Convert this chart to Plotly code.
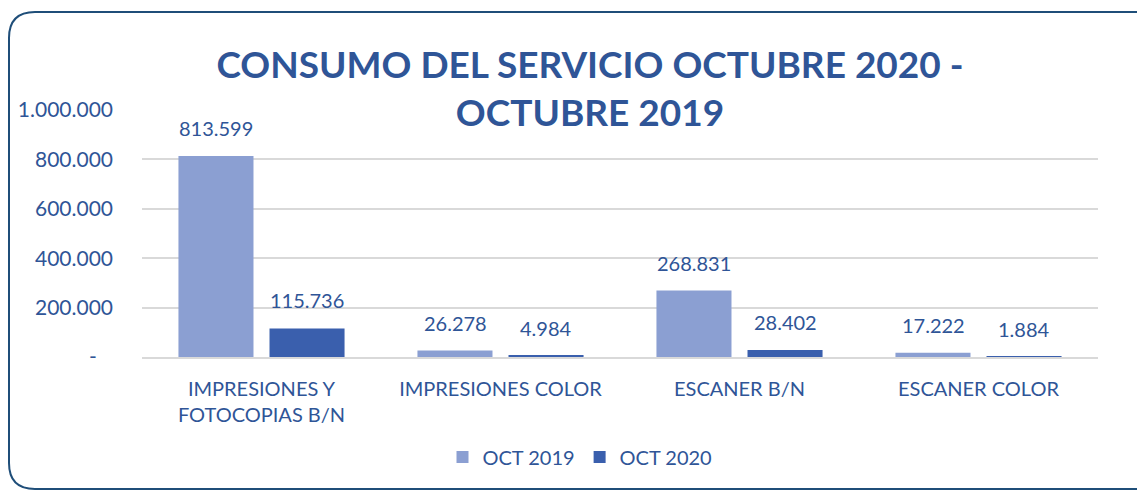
import plotly.graph_objects as go

categories = ["IMPRESIONES Y<br>FOTOCOPIAS B/N", "IMPRESIONES COLOR", "ESCANER B/N", "ESCANER COLOR"]
oct_2019 = [813599, 26278, 268831, 17222]
oct_2020 = [115736, 4984, 28402, 1884]
series_names = ["OCT 2019", "OCT 2020"]
tick_vals = [0, 200000, 400000, 600000, 800000, 1000000]
tick_text = ["-\u00a0\u00a0\u00a0", "200.000", "400.000", "600.000", "800.000", "1.000.000"]

W, H = 1145, 491
OFF = 8  # page offset of the figure div
FONT = "Lato"
BLUE = "#2F5597"
C2019 = "#8B9FD2"
C2020 = "#3A5FAD"

fig = go.Figure()
fig.add_trace(go.Bar(x=categories, y=oct_2019, name=series_names[0], marker=dict(color=C2019, line=dict(width=0))))
fig.add_trace(go.Bar(x=categories, y=oct_2020, name=series_names[1], marker=dict(color=C2020, line=dict(width=0))))

annotations = []
for vals, shift in ((oct_2019, -45.5), (oct_2020, 45.5)):
    for c, v in zip(categories, vals):
        annotations.append(dict(
            x=c, y=v, xref="x", yref="y", text=f"{v:,}".replace(",", "."),
            showarrow=False, xshift=shift, yshift=14, yanchor="bottom",
            font=dict(family=FONT, size=20, color=BLUE)))

def px(x):
    return (x - OFF) / W

def py(y):
    return 1 - (y - OFF) / H

L, T, R, B, r = 9, 12, 1160, 489, 26
path = (f"M {px(L+r)},{py(T)} L {px(R-r)},{py(T)} Q {px(R)},{py(T)} {px(R)},{py(T+r)} "
        f"L {px(R)},{py(B-r)} Q {px(R)},{py(B)} {px(R-r)},{py(B)} "
        f"L {px(L+r)},{py(B)} Q {px(L)},{py(B)} {px(L)},{py(B-r)} "
        f"L {px(L)},{py(T+r)} Q {px(L)},{py(T)} {px(L+r)},{py(T)} Z")

fig.update_layout(
    width=W, height=H,
    margin=dict(l=0, r=0, t=0, b=0, autoexpand=False),
    paper_bgcolor="white", plot_bgcolor="white",
    barmode="group", bargap=0.238, bargroupgap=0.176,
    title=dict(text="CONSUMO DEL SERVICIO OCTUBRE 2020 -<br>OCTUBRE 2019",
               x=px(590), xanchor="center", y=py(78), yanchor="top", automargin=False,
               font=dict(family=FONT, size=37, color=BLUE, weight="bold")),
    xaxis=dict(domain=[px(142), px(1098)], showline=True, linecolor="#D9D9D9", linewidth=1.5,
               ticks="", tickfont=dict(family=FONT, size=20, color=BLUE), showgrid=False,
               ticklabelstandoff=13, automargin=False, fixedrange=True),
    yaxis=dict(domain=[py(357), py(110)], range=[0, 1000000], tickvals=tick_vals, ticktext=tick_text,
               showgrid=True, gridcolor="#D9D9D9", gridwidth=1.5, zeroline=False, showline=False,
               tickfont=dict(family=FONT, size=21, color=BLUE), ticks="", ticklabelstandoff=28,
               automargin=False),
    legend=dict(orientation="h", x=px(580), xanchor="center", y=py(457), yanchor="middle",
                font=dict(family=FONT, size=20, color=BLUE), itemwidth=30, traceorder="normal"),
    annotations=annotations,
    shapes=[dict(type="path", xref="paper", yref="paper", path=path,
                 line=dict(color="#1F4E79", width=2), fillcolor="rgba(0,0,0,0)", layer="below")],
    showlegend=True,
)

fig.write_html("out.html")
